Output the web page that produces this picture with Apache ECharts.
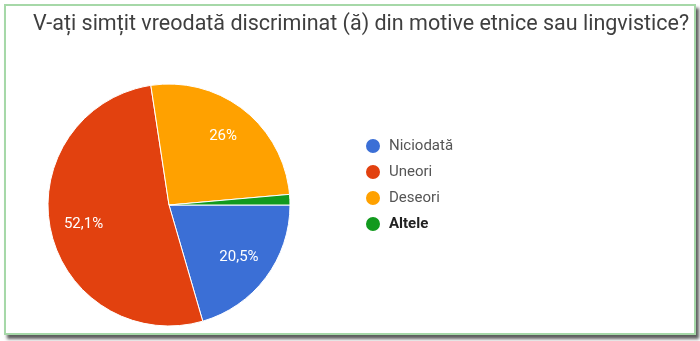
<!DOCTYPE html>
<html>
<head>
<meta charset="utf-8">
<script src="https://cdn.jsdelivr.net/npm/echarts@6/dist/echarts.min.js"></script>
<style>
  html, body { margin: 0; padding: 0; background: #fff; }
  #frame {
    position: absolute; left: 4px; top: 4px; width: 688px; height: 327px;
    border: 2px solid #a6d8a8;
    box-shadow: 3px 4px 3px rgba(40, 40, 40, 0.75);
    background: #fff;
  }
  #chart_pie { position: absolute; left: 0; top: 0; width: 700px; height: 341px; }
</style>
</head>
<body>
<div id="frame"></div>
<div id="chart_pie"></div>
<script>
const titleText = 'V-ați simțit vreodată discriminat (ă) din motive etnice sau lingvistice?'
const categories = ['Niciodată', 'Uneori', 'Deseori', 'Altele']
const percents = [20.5, 52.1, 26, 1.4]
const colors = ['#3b6fd6', '#e2410f', '#ffa100', '#129a1e']

const pieData = categories.map((name, i) => ({ name: name, value: percents[i] }))

function fmtPercent(p) {
  // google forms hides labels on tiny slices
  if (p.value < 5) return ''
  return String(p.value).replace('.', ',') + '%'
}

const chart = echarts.init(document.getElementById('chart_pie'))
chart.setOption({
  color: colors,
  animation: false,
  title: {
    text: titleText,
    left: 28,
    top: 9,
    textStyle: {
      fontFamily: 'Roboto',
      fontSize: 21.5,
      fontWeight: 'normal',
      color: '#3f3f3f'
    }
  },
  legend: {
    orient: 'vertical',
    left: 359,
    top: 132,
    icon: 'circle',
    itemWidth: 16,
    itemHeight: 16,
    itemGap: 8,
    textStyle: {
      fontFamily: 'Roboto',
      fontSize: 15,
      color: '#555',
      padding: [0, 0, 0, 3]
    },
    data: categories.map(name => name === 'Altele'
      ? { name: name, textStyle: { color: '#222', fontWeight: 'bold' } }
      : name)
  },
  series: [
    {
      type: 'pie',
      center: [169, 205],
      radius: [0, 121],
      startAngle: 0,
      clockwise: true,
      data: pieData,
      label: { show: false },
      labelLine: { show: false },
      itemStyle: { borderColor: '#fff', borderWidth: 1 }
    },
    {
      // transparent ring only used to place the labels further out
      type: 'pie',
      center: [169, 205],
      radius: [48, 121],
      startAngle: 0,
      clockwise: true,
      silent: true,
      legendHoverLink: false,
      data: pieData,
      itemStyle: { color: 'rgba(0,0,0,0)', borderWidth: 0 },
      label: {
        show: true,
        position: 'inside',
        formatter: fmtPercent,
        color: '#fff',
        fontFamily: 'Roboto',
        fontSize: 15
      },
      labelLine: { show: false }
    }
  ]
})
</script>
</body>
</html>
